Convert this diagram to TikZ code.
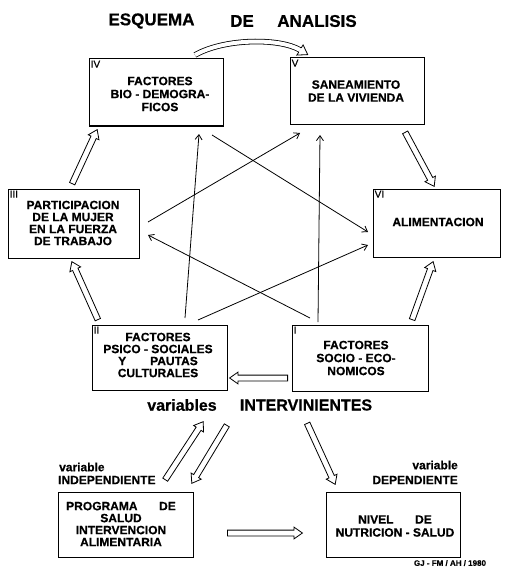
\documentclass[tikz,border=0pt]{standalone}
\usepackage{fontspec}
\setmainfont{Liberation Sans}[FakeBold=0.6]
\usetikzlibrary{shapes.arrows,arrows.meta,calc}
\newcommand\blk[3]{%
  \path let \p1=(#2), \p2=(#3), \n1={atan2(\y2-\y1,\x2-\x1)}, \n2={veclen(\x2-\x1,\y2-\y1)} in
    node[blockarrow, minimum height=\n2, rotate=\n1, anchor=tail] (#1) at (\p1) {};}
\begin{document}
\begin{tikzpicture}[x=1pt,y=-1pt,
  box/.style={draw,line width=1pt,inner sep=0pt},
  txt/.style={font=\fontsize{12}{13}\selectfont\bfseries,align=center,inner sep=0pt},
  num/.style={font=\fontsize{10}{10}\selectfont,inner sep=0pt,anchor=north west,xshift=2pt,yshift=-2pt},
  thinarrow/.style={line width=0.8pt,-{Straight Barb[length=5pt,width=7pt]}},
  blockarrow/.style={single arrow,draw,line width=0.8pt,inner xsep=0pt,inner ysep=2.5pt,
     minimum width=1pt,single arrow head extend=3pt,single arrow tip angle=70,fill=white}]
\useasboundingbox (0,0) rectangle (506,567);

% title
\node[font=\fontsize{17}{17}\selectfont\bfseries] (t1) at (151.5,21) {ESQUEMA};
\node[font=\fontsize{17}{17}\selectfont\bfseries] (t2) at (242,21) {DE};
\node[font=\fontsize{17}{17}\selectfont\bfseries] (t3) at (317,21) {ANALISIS};

% boxes
\node[box,minimum width=134pt,minimum height=67pt] (IV) at (156,92.5) {};
\node[box,minimum width=134pt,minimum height=67pt] (V) at (357,91.5) {};
\node[box,minimum width=131pt,minimum height=69pt] (III) at (73.5,223.5) {};
\node[box,minimum width=127pt,minimum height=68pt] (VI) at (436.5,223) {};
\node[box,minimum width=135pt,minimum height=65pt] (II) at (159.5,357.5) {};
\node[box,minimum width=136pt,minimum height=66pt] (I) at (360,358) {};
\node[box,minimum width=135pt,minimum height=65pt] (P) at (125.5,524.5) {};
\node[box,minimum width=134pt,minimum height=65pt] (N) at (393,524.5) {};

% box numbers
\node[num] (nIV) at (IV.north west) {IV};
\node[num] (nV) at (V.north west) {V};
\node[num] (nIII) at (III.north west) {III};
\node[num] (nVI) at (VI.north west) {VI};
\node[num] (nII) at (II.north west) {II};
\node[num] (nI) at (I.north west) {I};

% box texts
\node[txt] (tIV) at (160,94) {FACTORES\\BIO - DEMOGRA-\\FICOS};
\node[txt] (tV) at (356,91) {SANEAMIENTO\\DE LA VIVIENDA};
\node[txt,font=\fontsize{12}{12}\selectfont\bfseries] (tIII) at (73,223) {PARTICIPACION\\DE LA MUJER\\EN LA FUERZA\\DE TRABAJO};
\node[txt] (tVI) at (438,222) {ALIMENTACION};
\node[txt,font=\fontsize{12}{12}\selectfont\bfseries] (tII) at (158,355) {FACTORES\\PSICO - SOCIALES\\Y\hspace{2em}PAUTAS\\CULTURALES};
\node[txt] (tI) at (356,358) {FACTORES\\SOCIO - ECO-\\NOMICOS};
\node[txt,font=\fontsize{12}{12}\selectfont\bfseries] (tP) at (121,524) {PROGRAMA\hspace{1.8em}DE\\SALUD\\INTERVENCION\\ALIMENTARIA};
\node[txt] (tN) at (395,526) {NIVEL\hspace{1.8em}DE\\NUTRICION - SALUD};

% other texts
\node[font=\fontsize{16}{16}\selectfont\bfseries,inner sep=0pt] (vi) at (182,405) {variables};
\node[font=\fontsize{16}{16}\selectfont\bfseries,inner sep=0pt] (VIN) at (306,405) {INTERVINIENTES};
\node[font=\fontsize{12}{12}\selectfont\bfseries,inner sep=0pt,anchor=west] (vl) at (59,467) {variable};
\node[font=\fontsize{12}{12}\selectfont\bfseries,inner sep=0pt,anchor=west] (IND) at (58,480) {INDEPENDIENTE};
\node[font=\fontsize{12}{12}\selectfont\bfseries,inner sep=0pt,anchor=east] (vr) at (458,465) {variable};
\node[font=\fontsize{12}{12}\selectfont\bfseries,inner sep=0pt,anchor=east] (DEP) at (458,480) {DEPENDIENTE};
\node[font=\fontsize{8}{8}\selectfont\bfseries,inner sep=0pt] (sig) at (450,563) {GJ - FM / AH / 1980};

% thin arrows
\coordinate (a1s) at (212,135); \coordinate (a1e) at (368,232);
\coordinate (a2s) at (148,222); \coordinate (a2e) at (300,133);
\coordinate (a3s) at (185,318); \coordinate (a3e) at (199,134);
\coordinate (a4s) at (318,322); \coordinate (a4e) at (320,135);
\coordinate (a5s) at (198,320); \coordinate (a5e) at (368,245);
\coordinate (a6s) at (310,318); \coordinate (a6e) at (148,235);
\draw[thinarrow] (a1s) -- (a1e);
\draw[thinarrow] (a2s) -- (a2e);
\draw[thinarrow] (a3s) -- (a3e);
\draw[thinarrow] (a4s) -- (a4e);
\draw[thinarrow] (a5s) -- (a5e);
\draw[thinarrow] (a6s) -- (a6e);

% block arrows
\coordinate (b1s) at (72,184);  \coordinate (b1e) at (97,130);
\coordinate (b2s) at (405,132); \coordinate (b2e) at (434,186);
\coordinate (b3s) at (412,320); \coordinate (b3e) at (433,262);
\coordinate (b4s) at (98,320);  \coordinate (b4e) at (72,262);
\coordinate (b5s) at (288,378); \coordinate (b5e) at (230,378);
\coordinate (b6s) at (165,480); \coordinate (b6e) at (203,422);
\coordinate (b7s) at (227,425); \coordinate (b7e) at (192,483);
\coordinate (b8s) at (307,423); \coordinate (b8e) at (335,484);
\coordinate (b9s) at (227,533); \coordinate (b9e) at (302,533);
\blk{B1}{b1s}{b1e}
\blk{B2}{b2s}{b2e}
\blk{B3}{b3s}{b3e}
\blk{B4}{b4s}{b4e}
\blk{B5}{b5s}{b5e}
\blk{B6}{b6s}{b6e}
\blk{B7}{b7s}{b7e}
\blk{B8}{b8s}{b8e}
\blk{B9}{b9s}{b9e}

% curved block arrow IV -> V
\coordinate (cs) at (195,55);
\coordinate (ce) at (300,50);
\draw[line width=0.8pt,double distance=4pt] (cs) .. controls (225,38) and (280,38) .. (ce);
\fill[white] (296.9,55.1) -- (307.7,54.6) -- (303.1,44.9) -- cycle;
\draw[line width=0.8pt,line join=miter] (298.77,52.06) -- (296.9,55.1) -- (307.7,54.6) -- (303.1,44.9) -- (301.23,47.94);
\end{tikzpicture}
\end{document}
